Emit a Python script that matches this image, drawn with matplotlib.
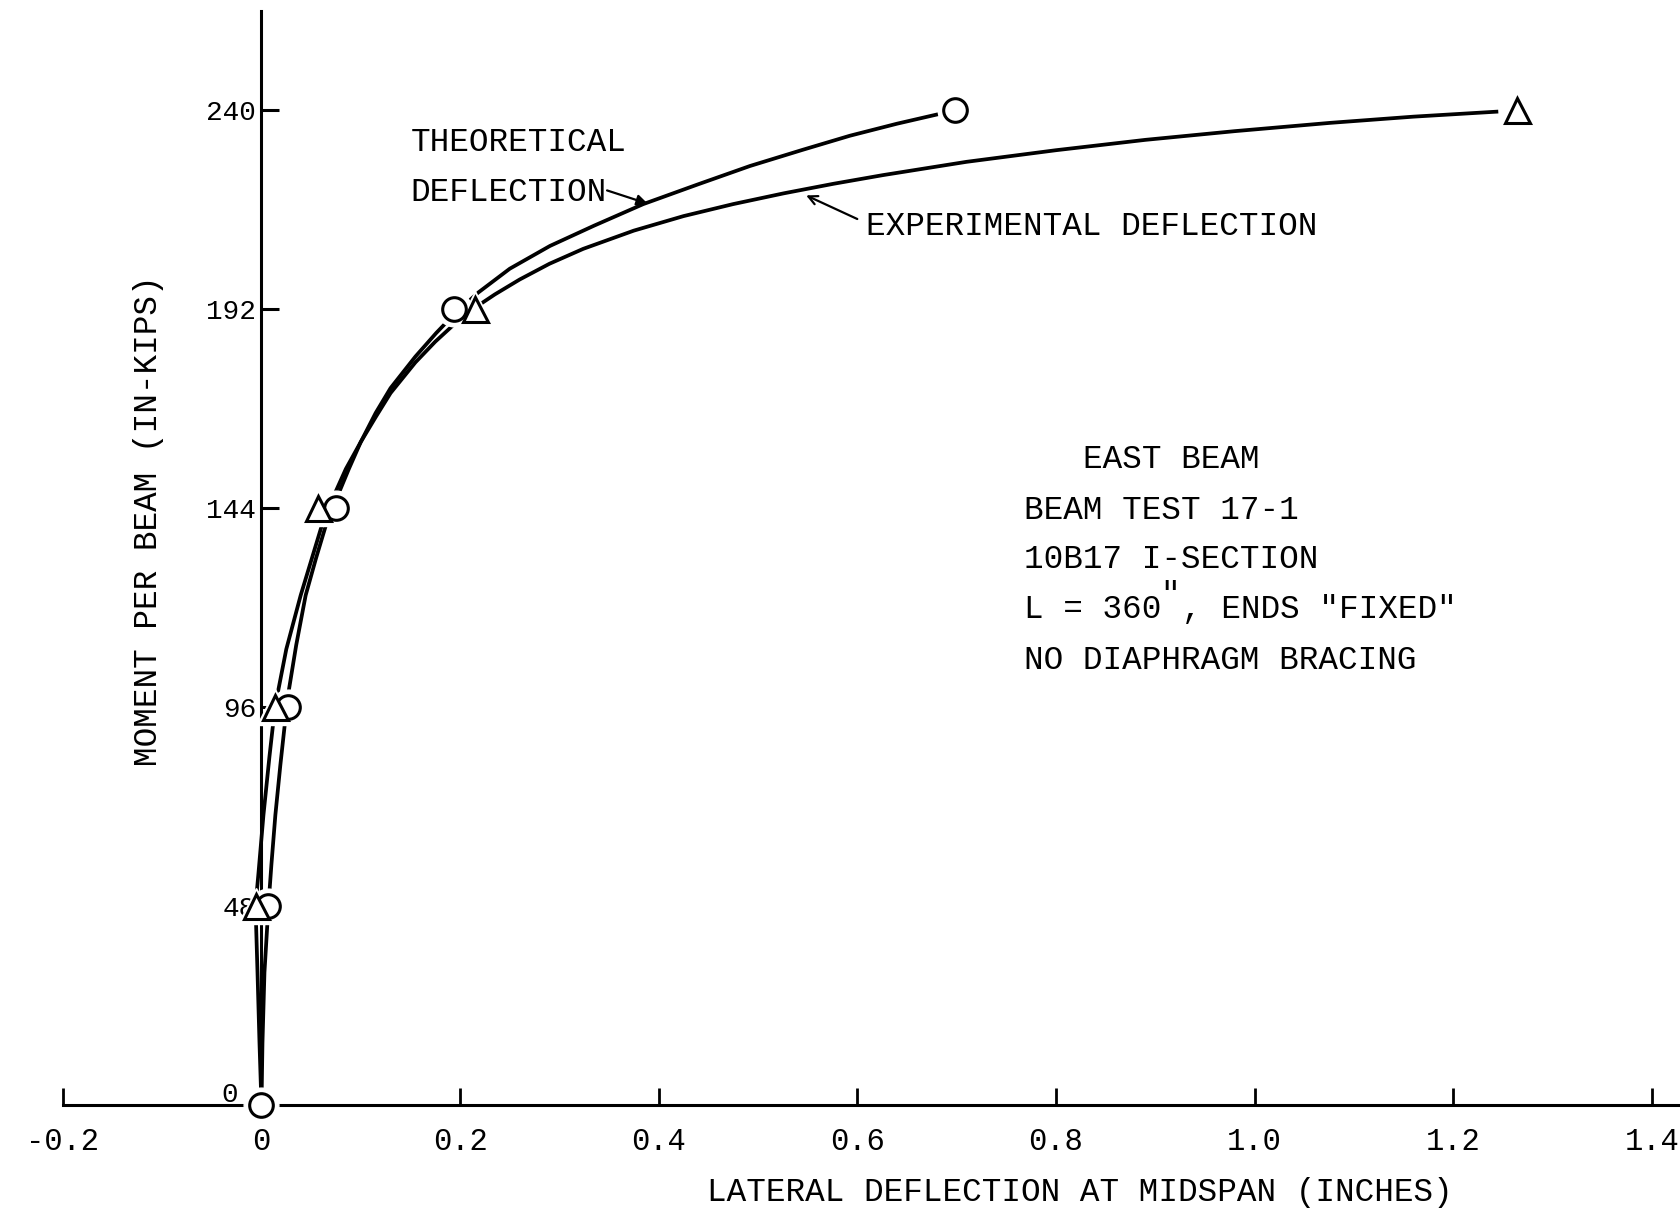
import matplotlib.pyplot as plt
from matplotlib.transforms import ScaledTranslation

plt.rcParams['font.family'] = ['Liberation Mono', 'DejaVu Sans Mono']

# test points: moment (in-kips) vs lateral deflection (in)
theo_pts_x = [0.0, 0.007, 0.027, 0.075, 0.194, 0.698]
theo_pts_y = [0, 48, 96, 144, 192, 240]
exp_pts_x = [-0.006, 0.0136, 0.057, 0.215, 1.264]
exp_pts_y = [48, 96, 144, 192, 240]

# faired curves
theo_x = [0.0, 0.001, 0.003, 0.007, 0.010, 0.014, 0.019, 0.024, 0.0275, 0.035, 0.0445,
          0.055, 0.065, 0.075, 0.088, 0.100, 0.115, 0.130, 0.155, 0.176, 0.194, 0.218,
          0.250, 0.2905, 0.335, 0.3845, 0.440, 0.492, 0.545, 0.5926, 0.640, 0.678, 0.698]
theo_y = [0, 15, 32, 48, 58, 70, 82, 93, 100, 111, 123,
          132, 140, 146, 153.5, 160, 167, 173, 180.6, 186.3, 190.8, 196.0,
          201.8, 207.3, 212.2, 217.4, 222.2, 226.6, 230.5, 233.9, 236.8, 238.9, 240]

exp_x = [0.0, -0.002, -0.004, -0.006, -0.003, 0.002, 0.008, 0.0136, 0.025, 0.0395, 0.0606,
         0.070, 0.085, 0.100, 0.115, 0.130, 0.155, 0.175, 0.195, 0.215, 0.235, 0.260,
         0.290, 0.324, 0.375, 0.425, 0.475, 0.526, 0.576, 0.626, 0.710, 0.800, 0.890,
         0.980, 1.076, 1.160, 1.2436]
exp_y = [0, 15, 32, 48, 56, 70, 84, 96, 110, 123, 139.7,
         145.5, 153.5, 160, 166, 171.8, 179.2, 184.2, 188.6, 192.4, 195.6, 199.2,
         203.0, 206.6, 211.0, 214.5, 217.4, 220.0, 222.3, 224.4, 227.6, 230.4, 232.9,
         235.0, 237.0, 238.5, 239.7]

x_ticks = [-0.2, 0.0, 0.2, 0.4, 0.6, 0.8, 1.0, 1.2, 1.4]
x_labels = ['-0.2', '0', '0.2', '0.4', '0.6', '0.8', '1.0', '1.2', '1.4']
y_ticks = [0, 48, 96, 144, 192, 240]
y_labels = ['0', '48', '96', '144', '192', '240']

fig = plt.figure(figsize=(16.81, 12.08), dpi=100)
ax = fig.add_axes([0.0374, 0.0853, 0.9629, 0.9056])
ax.set_xlim(-0.2, 1.43)
ax.set_ylim(0, 264)

ax.spines['left'].set_position(('data', 0))
ax.spines['top'].set_visible(False)
ax.spines['right'].set_visible(False)
for s in ('left', 'bottom'):
    ax.spines[s].set_linewidth(2.2)

ax.set_xticks(x_ticks)
ax.set_xticklabels(x_labels)
ax.set_yticks(y_ticks)
ax.set_yticklabels(y_labels)
ax.tick_params(axis='x', direction='in', length=12, width=2, pad=16, labelsize=22)
ax.tick_params(axis='y', direction='in', length=13, width=2.2, pad=4, labelsize=20)

# the "0" on the moment axis sits clear of the origin symbol, on top of the axis line
zero_lab = ax.get_yticklabels()[0]
zero_lab.set_transform(zero_lab.get_transform() +
                       ScaledTranslation(-13 / 72, 9 / 72, fig.dpi_scale_trans))

ax.plot(theo_x, theo_y, color='black', lw=2.7, zorder=2, clip_on=False)
ax.plot(exp_x, exp_y, color='black', lw=2.7, zorder=2, clip_on=False)

# white halo first so the curves stop short of the symbols
sets = [(theo_pts_x, theo_pts_y, 'o', 17), (exp_pts_x, exp_pts_y, '^', 18)]
for xs, ys, mk, ms in sets:
    ax.plot(xs, ys, ls='none', marker=mk, ms=ms + 8, mfc='white', mec='white',
            zorder=3, clip_on=False)
for xs, ys, mk, ms in sets:
    ax.plot(xs, ys, ls='none', marker=mk, ms=ms, mfc='white', mec='black', mew=2.2,
            zorder=4, clip_on=False)

fs = 23.5
ax.text(0.150, 230.1, 'THEORETICAL', fontsize=fs, va='baseline')
ax.text(0.150, 218.2, 'DEFLECTION', fontsize=fs, va='baseline')
ax.annotate('', xy=(0.389, 217.5), xytext=(0.348, 220.7),
            arrowprops=dict(arrowstyle='-|>', lw=1.6, color='black',
                            mutation_scale=16, shrinkA=0, shrinkB=0))
ax.text(0.609, 209.9, 'EXPERIMENTAL DEFLECTION', fontsize=fs, va='baseline')
ax.annotate('', xy=(0.5485, 219.5), xytext=(0.600, 213.8),
            arrowprops=dict(arrowstyle='->', lw=1.6, color='black',
                            mutation_scale=16, shrinkA=0, shrinkB=0))

ax.text(0.827, 153.7, 'EAST BEAM', fontsize=fs, va='baseline')
ax.text(0.7677, 141.3, 'BEAM TEST 17-1', fontsize=fs, va='baseline')
ax.text(0.7677, 129.5, '10B17 I-SECTION', fontsize=fs, va='baseline')
ax.text(0.7677, 117.4, 'L = 360', fontsize=fs, va='baseline')
ax.text(0.905, 121.0, '"', fontsize=fs, va='baseline')
ax.text(0.9269, 117.4, ', ENDS "FIXED"', fontsize=fs, va='baseline')
ax.text(0.7677, 105.3, 'NO DIAPHRAGM BRACING', fontsize=fs, va='baseline')

ax.text(0.824, -23.1, 'LATERAL DEFLECTION AT MIDSPAN (INCHES)', fontsize=fs,
        ha='center', va='baseline', clip_on=False)
ax.text(-0.114, 141, 'MOMENT PER BEAM (IN-KIPS)', fontsize=fs, rotation=90,
        ha='center', va='center', clip_on=False)

fig.savefig('out.png', dpi=100, facecolor='white')
